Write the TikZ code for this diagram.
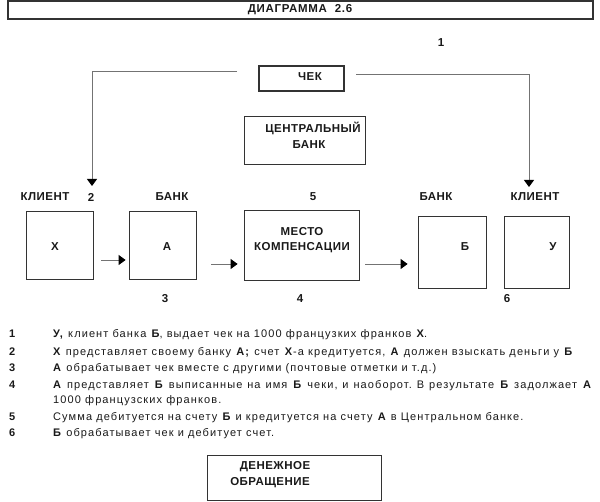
\documentclass[tikz,border=0pt]{standalone}
\usepackage{fontspec}
\setmainfont{Liberation Sans}
\newfontfamily\bodyfont[LetterSpace=10]{Liberation Sans}
\newfontfamily\lblfont[LetterSpace=4]{Liberation Sans}
\newfontfamily\titlefont[LetterSpace=6]{Liberation Sans}
\usetikzlibrary{arrows.meta}
\begin{document}
\frenchspacing
\begin{tikzpicture}[x=1pt,y=-1pt,
  box/.style={draw=black!80, line width=0.8pt, inner sep=0pt},
  lbl/.style={font=\lblfont\fontsize{11.5}{15}\selectfont\bfseries, inner sep=0pt, text=black!90},
  conn/.style={draw=black!55, line width=0.9pt},
  arr/.style={conn, -{Triangle[length=7pt,width=10pt,color=black]}},
  num/.style={font=\lblfont\fontsize{11}{13}\selectfont\bfseries, anchor=base west, inner sep=0pt, text=black!90},
  body/.style={font=\bodyfont\fontsize{11}{13}\selectfont, anchor=base west, inner sep=0pt, text=black!90}]
\useasboundingbox (0,0) rectangle (600,502);
% header
\node[box, line width=1.3pt, minimum width=585pt, minimum height=18pt] (head) at (300.5,10) {};
\node[lbl, font=\titlefont\fontsize{11.5}{14}\selectfont\bfseries] (title) at (300,9.5) {ДИАГРАММА\ \ 2.6};
\node[lbl] (n1) at (441,43) {1};
% cheque
\node[box, line width=1.2pt, minimum width=85pt, minimum height=25pt] (chek) at (301.5,78.5) {};
\node[lbl] (chekt) at (310,77) {ЧЕК};
% central bank
\node[box, minimum width=121pt, minimum height=48pt] (cb) at (304.5,140) {};
\node[lbl] (cbt1) at (313,128) {ЦЕНТРАЛЬНЫЙ};
\node[lbl] (cbt2) at (309,145) {БАНК};
% labels above
\node[lbl] (kl1) at (45,197) {КЛИЕНТ};
\node[lbl] (n2) at (91,197) {2};
\node[lbl] (bk1) at (172,197) {БАНК};
\node[lbl] (n5) at (313,197) {5};
\node[lbl] (bk2) at (436,197) {БАНК};
\node[lbl] (kl2) at (535,197) {КЛИЕНТ};
% boxes
\node[box, minimum width=67pt, minimum height=68pt] (bx) at (59.5,245) {};
\node[lbl] (bxt) at (55,247) {Х};
\node[box, minimum width=67pt, minimum height=68pt] (ba) at (162.5,245) {};
\node[lbl] (bat) at (167,247) {А};
\node[box, minimum width=115pt, minimum height=70pt] (mesto) at (301.5,245) {};
\node[lbl, align=center] (mestot) at (302,240) {МЕСТО\\КОМПЕНСАЦИИ};
\node[box, minimum width=68pt, minimum height=72pt] (bb) at (452,252) {};
\node[lbl] (bbt) at (465,247) {Б};
\node[box, minimum width=65pt, minimum height=72pt] (bu) at (536.5,252) {};
\node[lbl] (but) at (553,247) {У};
% labels below
\node[lbl] (n3) at (165,299) {3};
\node[lbl] (n4) at (300,299) {4};
\node[lbl] (n6) at (507,299) {6};
% connectors
\coordinate (cl) at (237,71);
\coordinate (cr) at (356,74);
\coordinate (lend) at (92,186);
\coordinate (rend) at (529,187);
\draw[arr] (cl) -| (lend);
\draw[arr] (cr) -| (rend);
\draw[arr] ([xshift=8pt,yshift=-15pt]bx.east) -- ([xshift=-3pt,yshift=-15pt]ba.west);
\draw[arr] ([xshift=15pt,yshift=-19pt]ba.east) -- ([xshift=-6pt,yshift=-19pt]mesto.west);
\draw[arr] ([xshift=6pt,yshift=-19pt]mesto.east) -- ([xshift=-10pt,yshift=-12pt]bb.west);
% text block
\node[num] (t1n) at (9,338) {1};
\node[body] (t1) at (53,338) {\textbf{У,} клиент банка \textbf{Б}, выдает чек на 1000 французких франков \textbf{Х}.};
\node[num] (t2n) at (9,356) {2};
\node[body] (t2) at (53,356) {\textbf{Х} представляет своему банку \textbf{А;} счет \textbf{Х}-а кредитуется, \textbf{А} должен взыскать деньги у \textbf{Б}};
\node[num] (t3n) at (9,372) {3};
\node[body] (t3) at (53,372) {\textbf{А} обрабатывает чек вместе с другими (почтовые отметки и т.д.)};
\node[num] (t4n) at (9,389) {4};
\node[body] (t4) at (53,389) {\makebox[539pt][s]{\textbf{А} представляет \textbf{Б} выписанные на имя \textbf{Б} чеки, и наоборот. В результате \textbf{Б} задолжает \textbf{А}}};
\node[body] (t4b) at (53,404) {1000 французских франков.};
\node[num] (t5n) at (9,421) {5};
\node[body] (t5) at (53,421) {Сумма дебитуется на счету \textbf{Б} и кредитуется на счету \textbf{А} в Центральном банке.};
\node[num] (t6n) at (9,437) {6};
\node[body] (t6) at (53,437) {\textbf{Б} обрабатывает чек и дебитует счет.};
% money circulation
\node[box, minimum width=174pt, minimum height=45pt] (den) at (294,477.5) {};
\node[lbl] (dent1) at (275,467) {ДЕНЕЖНОЕ};
\node[lbl] (dent2) at (270,483) {ОБРАЩЕНИЕ};
\end{tikzpicture}
\end{document}
